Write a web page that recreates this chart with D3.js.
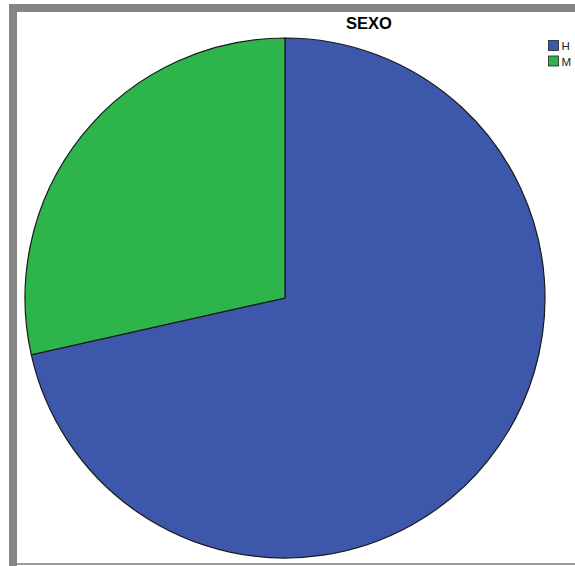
<!DOCTYPE html>
<html>
<head>
<meta charset="utf-8">
<script src="https://cdn.jsdelivr.net/npm/d3@7"></script>
<style>
  body { margin: 0; background: #fff; }
</style>
</head>
<body>
<script>
var title = "SEXO";
var categories = ["H", "M"];
var values = [71.5, 28.5];
var colors = ["#3d58aa", "#2db44a"];

var width = 575,
    height = 566;

var svg = d3.select("body").append("svg")
    .attr("width", width)
    .attr("height", height);

// grey frame (left, top, bottom)
svg.append("rect").attr("x", 9).attr("y", 4).attr("width", 8).attr("height", 562).attr("fill", "#858585");
svg.append("rect").attr("x", 9).attr("y", 4).attr("width", 566).attr("height", 8).attr("fill", "#858585");
svg.append("rect").attr("x", 17).attr("y", 563).attr("width", 558).attr("height", 2).attr("fill", "#9a9a9a");

svg.append("text")
    .attr("x", 369)
    .attr("y", 29)
    .attr("text-anchor", "middle")
    .style("font-family", "Liberation Sans, Arial, sans-serif")
    .style("font-weight", "bold")
    .style("font-size", "16.5px")
    .text(title);

var cx = 285, cy = 298, r = 260;

var pie = d3.pie().sort(null).value(function(d) { return d; });
var arc = d3.arc().innerRadius(0).outerRadius(r);

var data = categories.map(function(c, i) { return values[i]; });

svg.append("g")
    .attr("transform", "translate(" + cx + "," + cy + ")")
    .selectAll("path")
    .data(pie(data))
    .enter()
    .append("path")
    .attr("d", arc)
    .attr("fill", function(d, i) { return colors[i]; })
    .attr("stroke", "#1a1a1a")
    .attr("stroke-width", 1.2);

var legend = svg.append("g")
    .attr("transform", "translate(548,40)")
    .selectAll("g")
    .data(categories)
    .enter()
    .append("g")
    .attr("transform", function(d, i) { return "translate(0," + (i * 15.5) + ")"; });

legend.append("rect")
    .attr("x", 0.5).attr("y", 0.5)
    .attr("width", 10).attr("height", 10)
    .attr("fill", function(d, i) { return colors[i]; })
    .attr("stroke", "#222")
    .attr("stroke-width", 0.8);

legend.append("text")
    .attr("x", 13.5)
    .attr("y", 10)
    .style("font-family", "Liberation Sans, Arial, sans-serif")
    .style("font-size", "11.5px")
    .attr("fill", "#222")
    .text(function(d) { return d; });
</script>
</body>
</html>
